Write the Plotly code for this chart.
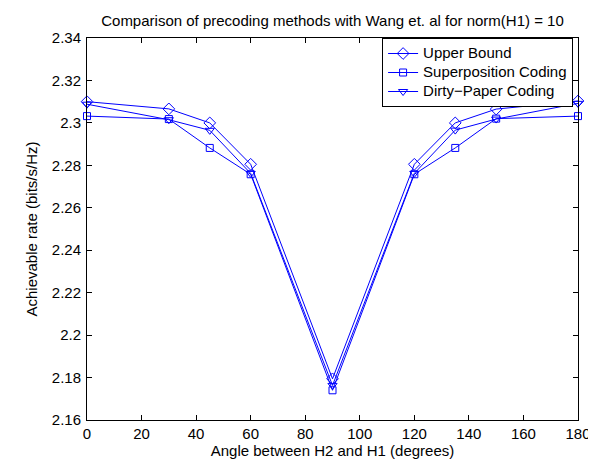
import plotly.graph_objects as go

angles = [0, 30, 45, 60, 90, 120, 135, 150, 180]
upper_bound = [2.3100, 2.3066, 2.3000, 2.2805, 2.1794, 2.2805, 2.3000, 2.3065, 2.3103]
superposition = [2.3032, 2.3018, 2.2882, 2.2758, 2.1740, 2.2758, 2.2882, 2.3020, 2.3032]
dirty_paper = [2.3088, 2.3015, 2.2965, 2.2762, 2.1763, 2.2762, 2.2966, 2.3018, 2.3092]
series_names = ["Upper Bound", "Superposition Coding", "Dirty\u2212Paper Coding"]

x_ticks = [0, 20, 40, 60, 80, 100, 120, 140, 160, 180]
y_ticks = [2.16, 2.18, 2.2, 2.22, 2.24, 2.26, 2.28, 2.3, 2.32, 2.34]
y_tick_labels = ["2.16", "2.18", "2.2", "2.22", "2.24", "2.26", "2.28", "2.3", "2.32", "2.34"]

blue = "#0000ff"
font = "Liberation Sans, Arial, sans-serif"
fs = 15

fig = go.Figure()
styles = [("diamond-open", 9), ("square-open", 7), ("triangle-down-open", 8)]
for name, vals, (sym, sz) in zip(series_names, [upper_bound, superposition, dirty_paper], styles):
    fig.add_trace(go.Scatter(
        x=angles, y=vals, mode="lines+markers",
        name="<span style='font-size:15px'>" + name + "</span>",
        line=dict(color=blue, width=1),
        marker=dict(symbol=sym, size=sz, color=blue, line=dict(width=1, color=blue)),
        cliponaxis=False,
    ))

axis_common = dict(
    showline=True, linecolor="black", linewidth=1, mirror="ticks",
    ticks="inside", ticklen=5, tickcolor="black", tickwidth=1,
    showgrid=False, zeroline=False,
    tickfont=dict(family=font, size=fs, color="black"),
)

fig.update_layout(
    width=596, height=460,
    margin=dict(l=79, r=26, t=30, b=43),
    paper_bgcolor="white", plot_bgcolor="white",
    font=dict(family=font, size=fs, color="black"),
    title=dict(text="Comparison of precoding methods with Wang et. al for norm(H1) = 10",
               x=0.5, xref="paper", xanchor="center", y=1 - 13/460, yanchor="middle",
               font=dict(family=font, size=fs, color="black")),
    xaxis=dict(range=[0, 180], tickvals=x_ticks,
               title=dict(text="Angle between H2 and H1 (degrees)", standoff=3,
                          font=dict(family=font, size=fs)),
               **axis_common),
    yaxis=dict(range=[2.16, 2.34], tickvals=y_ticks, ticktext=y_tick_labels,
               ticklabelstandoff=2,
               title=dict(text="Achievable rate (bits/s/Hz)", standoff=10,
                          font=dict(family=font, size=fs)),
               **axis_common),
    legend=dict(x=0.99, y=1.0, xanchor="right", yanchor="top",
                bgcolor="white", bordercolor="black", borderwidth=1,
                font=dict(family=font, size=12), tracegroupgap=0,
                itemwidth=30),
    showlegend=True,
)

fig.write_html("out.html")
